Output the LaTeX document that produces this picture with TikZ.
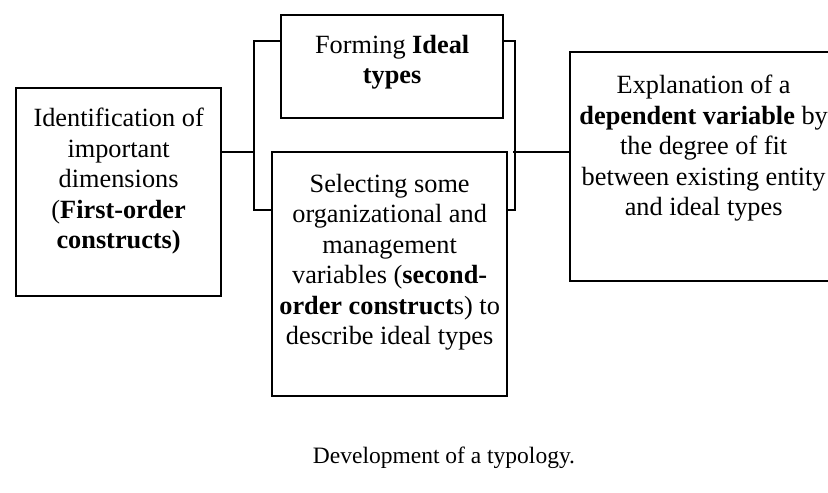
\documentclass[tikz,border=0pt]{standalone}
\usepackage{fontspec}
\setmainfont{Liberation Serif}
\usetikzlibrary{calc}

\tikzset{
  panel/.style={draw, line width=2.3pt, inner sep=0pt, anchor=north west},
  brace/.style={line width=2.3pt},
  link/.style={line width=1.2pt},
}
% width, height, top gap, text
\newcommand{\paneltext}[4]{%
  \parbox[c][#2][t]{#1}{\centering\fontsize{26.3}{30.5}\selectfont\vspace*{#3}#4}}

\begin{document}
\begin{tikzpicture}[x=1pt, y=-1pt]
  \useasboundingbox (0,0) rectangle (828,493);
  \clip (0,0) rectangle (828,493);

  % --- the four boxes ---
  \node[panel] (ident) at (15,87)
    {\paneltext{205pt}{208pt}{20pt}{Identification of\\ important\\ dimensions\\ (\textbf{First-order}\\ \textbf{constructs)}}};
  \node[panel] (forming) at (280,14)
    {\paneltext{222pt}{103pt}{20pt}{Forming \textbf{Ideal}\\ \textbf{types}}};
  \node[panel] (select) at (271,151)
    {\paneltext{235pt}{244pt}{22pt}{Selecting some\\ organizational and\\ management\\ variables (\textbf{second-}\\ \textbf{order construct}s) to\\ describe ideal types}};
  \node[panel] (expl) at (569,51)
    {\paneltext{267pt}{229pt}{23pt}{Explanation of a\\ \textbf{dependent variable} by\\ the degree of fit\\ between existing entity\\ and ideal types}};

  % --- brackets round the middle pair ---
  \draw[brace] ([yshift=-27pt]forming.north west) -- ++(-26,0)
    |- ([yshift=-59pt]select.north west);
  \draw[brace] ([yshift=-27pt]forming.north east) -- ++(11,0)
    |- ([yshift=-59pt]select.north east);

  % --- links to the outer boxes ---
  \coordinate (lmid) at (254,152);
  \coordinate (rmid) at (513,152);
  \draw[link] (ident.east |- lmid) -- (lmid);
  \draw[link] (rmid) -- (expl.west |- rmid);

  \node[font=\fontsize{23.5}{28}\selectfont] (caption) at (444,458)
    {Development of a typology.};
\end{tikzpicture}
\end{document}
